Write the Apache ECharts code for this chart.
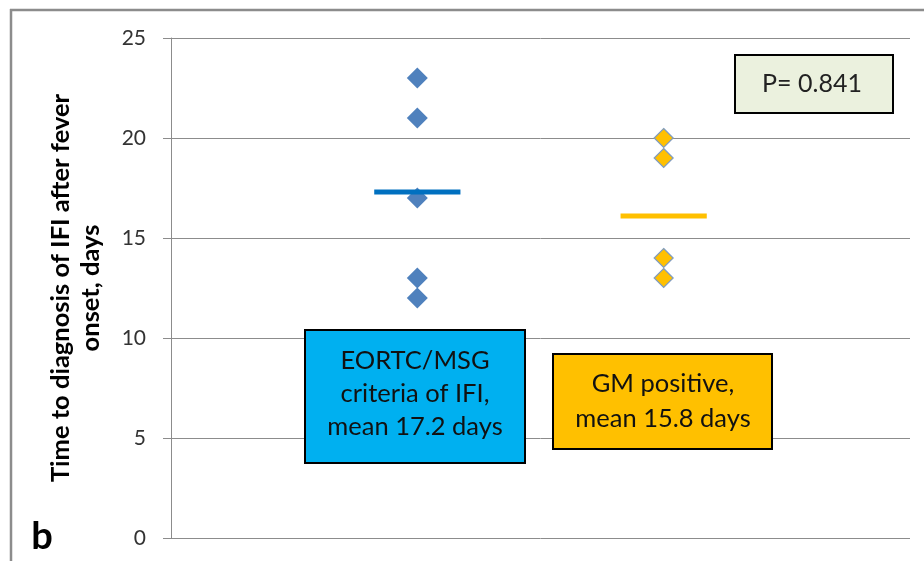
<!DOCTYPE html>
<html><head><meta charset="utf-8">
<script src="https://cdn.jsdelivr.net/npm/echarts@6/dist/echarts.min.js"></script>
<style>html,body{margin:0;padding:0;background:#fff}#c{width:924px;height:561px}</style>
</head><body><div id="c"></div>
<script>
var groups = ['EORTC/MSG criteria of IFI', 'GM positive'];
var groupX = [1, 2];
var eortcValues = [23, 21, 17, 13, 12];
var gmValues = [20, 19, 14, 13];
var meanLines = [17.3, 16.1];
var yTicks = [0, 5, 10, 15, 20, 25];

var FONT = 'Lato, "Open Sans", sans-serif';
var chart = echarts.init(document.getElementById('c'));
var halfW = 0.175;
function pts(x, vals){ return vals.map(function(v){ return [x, v]; }); }

chart.setOption({
  animation: false,
  grid: {left: 171, top: 38, right: 14, bottom: 23},
  xAxis: {type: 'value', min: 0, max: 3, show: false, splitLine: {show: false}},
  yAxis: {
    type: 'value', min: yTicks[0], max: yTicks[yTicks.length-1], interval: 5,
    axisLine: {show: true, lineStyle: {color: '#8c8c8c', width: 1}},
    axisTick: {show: true, length: 8, lineStyle: {color: '#8c8c8c'}},
    axisLabel: {fontSize: 21, color: '#333', fontFamily: FONT, margin: 25},
    splitLine: {show: true, lineStyle: {color: '#8c8c8c', width: 1}}
  },
  series: [
    {type: 'line', data: [[groupX[0]-halfW, meanLines[0]], [groupX[0]+halfW, meanLines[0]]],
     symbol: 'none', lineStyle: {color: '#0070C0', width: 5}, z: 3},
    {type: 'line', data: [[groupX[1]-halfW, meanLines[1]], [groupX[1]+halfW, meanLines[1]]],
     symbol: 'none', lineStyle: {color: '#FFC000', width: 5}, z: 3},
    {type: 'scatter', name: groups[0], data: pts(groupX[0], eortcValues), symbol: 'diamond',
     symbolSize: 21, itemStyle: {color: '#4F81BD', opacity: 1}, z: 2},
    {type: 'scatter', name: groups[1], data: pts(groupX[1], gmValues), symbol: 'diamond',
     symbolSize: 19, itemStyle: {color: '#FFC000', borderColor: '#7F9CC0', borderWidth: 1.2, opacity: 1}, z: 2}
  ],
  graphic: [
    {type: 'line', shape: {x1: 11, y1: 9, x2: 11, y2: 561}, style: {stroke: '#8c8c8c', lineWidth: 2.5}},
    {type: 'line', shape: {x1: 10, y1: 10, x2: 924, y2: 10}, style: {stroke: '#8c8c8c', lineWidth: 2.5}},
    {type: 'text', x: 76, y: 288, rotation: Math.PI/2,
     style: {text: 'Time to diagnosis of IFI after fever\nonset, days', fontSize: 25.5, fontWeight: 'bold',
       fontFamily: FONT, fill: '#000', textAlign: 'center', textVerticalAlign: 'middle', lineHeight: 30}},
    {type: 'text', x: 42, y: 537,
     style: {text: 'b', fontSize: 38, fontWeight: 'bold', fontFamily: FONT, fill: '#000',
       textAlign: 'center', textVerticalAlign: 'middle'}},
    {type: 'rect', shape: {x: 305, y: 330, width: 220, height: 133},
     style: {fill: '#00B0F0', stroke: '#000', lineWidth: 2}, z: 10},
    {type: 'text', x: 415, y: 394, z: 11,
     style: {text: 'EORTC/MSG\ncriteria of IFI,\nmean 17.2 days', fontSize: 25.5, fontFamily: FONT, fill: '#111',
       textAlign: 'center', textVerticalAlign: 'middle', lineHeight: 33}},
    {type: 'rect', shape: {x: 553, y: 354, width: 219, height: 95},
     style: {fill: '#FFC000', stroke: '#000', lineWidth: 2}, z: 10},
    {type: 'text', x: 663, y: 401, z: 11,
     style: {text: 'GM positive,\nmean 15.8 days', fontSize: 25.5, fontFamily: FONT, fill: '#111',
       textAlign: 'center', textVerticalAlign: 'middle', lineHeight: 35}},
    {type: 'rect', shape: {x: 735, y: 55, width: 158, height: 58},
     style: {fill: '#EBF1DE', stroke: '#000', lineWidth: 2}, z: 10},
    {type: 'text', x: 812, y: 84, z: 11,
     style: {text: 'P= 0.841', fontSize: 25, fontFamily: FONT, fill: '#222',
       textAlign: 'center', textVerticalAlign: 'middle'}}
  ]
});
</script></body></html>
